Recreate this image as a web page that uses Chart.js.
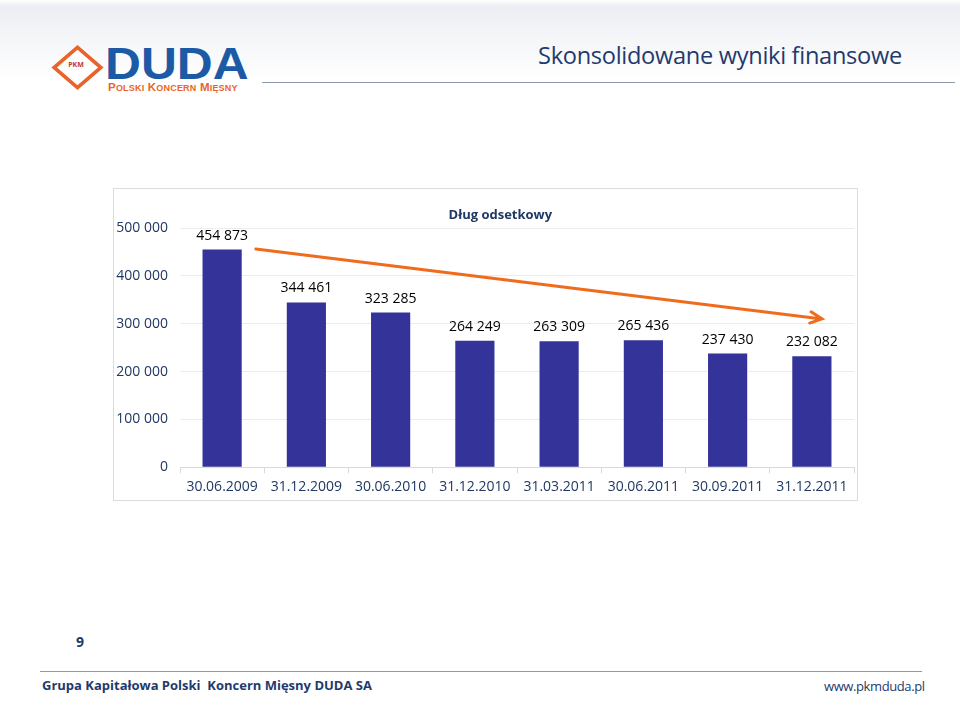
<!DOCTYPE html>
<html>
<head>
<meta charset="utf-8">
<script src="https://cdn.jsdelivr.net/npm/chart.js@4.4.1/dist/chart.umd.min.js"></script>
<style>
  body { margin:0; background:#fff; font-family:"Open Sans", sans-serif; }
  #page { position:relative; width:960px; height:701px; overflow:hidden; }
  #header { position:absolute; left:0; top:0; width:960px; height:95px;
    background:linear-gradient(#ffffff 0px, #eceef3 6px, #f5f6f8 40px, #ffffff 80px); }
  #title { position:absolute; left:538px; top:39px; font-size:23.6px; color:#1f3a6e; letter-spacing:-0.3px; }
  #hline { position:absolute; left:262px; top:82px; width:693px; height:1px; background:#8a9bb0; }
  #diamond { position:absolute; left:59px; top:49px; width:29px; height:29px; border:4px solid #e8642a;
    transform:scaleY(0.86) rotate(45deg); background:#fff; }
  #pkm { position:absolute; left:61px; top:60px; width:30px; text-align:center; font-size:7px; font-weight:bold; color:#c0392b; }
  #duda { position:absolute; left:105px; top:40px; font-size:44px; line-height:48px; font-weight:bold; color:#1d5aa6; font-family:"Liberation Sans", sans-serif; transform:scaleX(1.13); transform-origin:left; }
  #pks { position:absolute; left:108px; top:81px; font-size:11.5px; font-weight:bold; color:#e8642a; font-family:"Liberation Sans", sans-serif; letter-spacing:0.2px; }
  #box { position:absolute; left:113px; top:188px; width:743px; height:311px; border:1px solid #dcdcdc; }
  #pagenum { position:absolute; left:76px; top:632px; font-size:14px; font-weight:bold; color:#1f3a6e; }
  #fline { position:absolute; left:40px; top:671px; width:882px; height:1px; background:#8a9bb0; }
  #fleft { position:absolute; left:42px; top:676px; font-size:13px; font-weight:bold; color:#1f3a6e; }
  #fright { position:absolute; left:824px; top:677px; font-size:13px; color:#1f3a6e; letter-spacing:-0.4px; }
</style>
</head>
<body>
<div id="page">
  <div id="header"></div>
  <div id="diamond"></div>
  <div id="pkm">PKM</div>
  <div id="duda">DUDA</div>
  <div id="pks">P<span style="font-size:9px">OLSKI</span> K<span style="font-size:9px">ONCERN</span> M<span style="font-size:9px">IĘSNY</span></div>
  <div id="title">Skonsolidowane wyniki finansowe</div>
  <div id="hline"></div>
  <div id="box"><canvas id="debtChart" width="743" height="311"></canvas></div>
  <div id="pagenum">9</div>
  <div id="fline"></div>
  <div id="fleft">Grupa Kapitałowa Polski&nbsp; Koncern Mięsny DUDA SA</div>
  <div id="fright">www.pkmduda.pl</div>
</div>
<script>
// =====================
// Data
// =====================
const dates = ['30.06.2009', '31.12.2009', '30.06.2010', '31.12.2010', '31.03.2011', '30.06.2011', '30.09.2011', '31.12.2011'];
const debt = [454873, 344461, 323285, 264249, 263309, 265436, 237430, 232082];
const yTicks = [0, 100000, 200000, 300000, 400000, 500000];
const chartTitle = 'Dług odsetkowy';
// trend arrow, in category index / value units
const arrowFrom = { x: 0.4, y: 456000 };
const arrowTo = { x: 7.12, y: 310000 };

const navy = '#1f3864';
const fmt = v => v.toLocaleString('en-US').replace(/,/g, ' ');

// title + value labels above the bars
const barLabels = {
    id: 'barLabels',
    afterDatasetsDraw(chart) {
        const ctx = chart.ctx;
        ctx.save();
        ctx.textAlign = 'center';
        ctx.textBaseline = 'middle';
        ctx.font = 'bold 13px "Open Sans"';
        ctx.fillStyle = navy;
        ctx.fillText(chartTitle, chart.width * 0.52, 26);
        ctx.font = '14px "Open Sans"';
        ctx.fillStyle = '#000';
        chart.getDatasetMeta(0).data.forEach((bar, i) => {
            ctx.fillText(fmt(debt[i]), bar.x, bar.y - 14);
        });
        ctx.restore();
    }
};

// orange trend arrow
const trendArrow = {
    id: 'trendArrow',
    afterDatasetsDraw(chart) {
        const { ctx, scales: { x, y } } = chart;
        const x1 = x.getPixelForValue(arrowFrom.x), y1 = y.getPixelForValue(arrowFrom.y);
        const x2 = x.getPixelForValue(arrowTo.x), y2 = y.getPixelForValue(arrowTo.y);
        const a = Math.atan2(y2 - y1, x2 - x1);
        ctx.save();
        ctx.strokeStyle = '#ef6c1f';
        ctx.lineWidth = 3;
        ctx.lineCap = 'round';
        ctx.beginPath();
        ctx.moveTo(x1, y1);
        ctx.lineTo(x2, y2);
        ctx.moveTo(x2 - 13 * Math.cos(a - 0.45), y2 - 13 * Math.sin(a - 0.45));
        ctx.lineTo(x2, y2);
        ctx.lineTo(x2 - 13 * Math.cos(a + 0.45), y2 - 13 * Math.sin(a + 0.45));
        ctx.stroke();
        ctx.restore();
    }
};

new Chart(document.getElementById('debtChart'), {
    type: 'bar',
    data: {
        labels: dates,
        datasets: [{ label: chartTitle, data: debt, backgroundColor: '#333399', borderWidth: 0,
                     categoryPercentage: 0.93, barPercentage: 0.5 }]
    },
    options: {
        responsive: false,
        animation: false,
        layout: { padding: { left: 0, right: 3, top: 39, bottom: 0 } },
        plugins: {
            legend: { display: false },
            tooltip: { enabled: false },
            title: { display: false }
        },
        scales: {
            x: {
                grid: { drawOnChartArea: false, drawTicks: true, tickLength: 6, color: '#d9d9d9' },
                border: { color: '#d9d9d9' },
                ticks: { color: navy, font: { family: '"Open Sans"', size: 14 }, padding: 5, maxRotation: 0 }
            },
            y: {
                min: 0, max: 500000,
                afterBuildTicks: axis => { axis.ticks = yTicks.map(v => ({ value: v })); },
                afterFit: axis => { axis.width = 66; },
                grid: { color: '#ececec', drawTicks: false },
                border: { display: false },
                ticks: { color: navy, font: { family: '"Open Sans"', size: 14 }, padding: 12, callback: v => fmt(v) }
            }
        }
    },
    plugins: [barLabels, trendArrow]
});
</script>
</body>
</html>
